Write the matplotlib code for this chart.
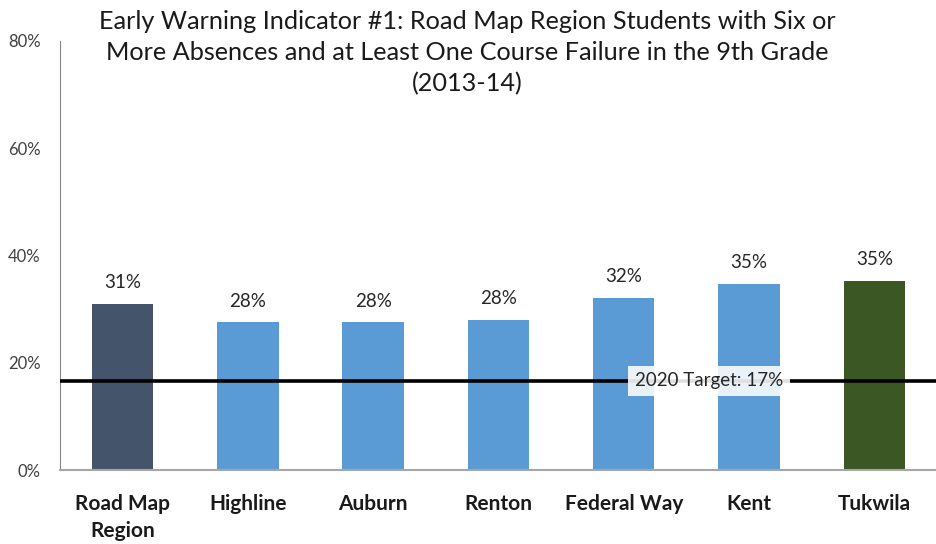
import matplotlib.pyplot as plt

# 9th grade early warning indicator, 2013-14
districts = ["Road Map\nRegion", "Highline", "Auburn", "Renton", "Federal Way", "Kent", "Tukwila"]
pct = [31.0, 27.5, 27.5, 28.0, 32.1, 34.7, 35.3]
target = 16.6
bar_colors = ["#44546A", "#5B9BD5", "#5B9BD5", "#5B9BD5", "#5B9BD5", "#5B9BD5", "#3B5724"]

plt.rcParams['font.family'] = ['Lato', 'DejaVu Sans']

fig = plt.figure(figsize=(9.37, 5.44), dpi=100)
ax = fig.add_axes([0.064, 0.136, 0.936, 0.789])

x = range(len(districts))
bars = ax.bar(x, pct, width=0.49, color=bar_colors, zorder=2)

for xi, v in zip(x, pct):
    ax.annotate(f"{v:.0f}%", (xi, v), xytext=(0, 9), textcoords="offset points",
                ha="center", va="bottom", fontsize=13.5, color="#262626")

# target line with its label
ax.axhline(target, color="black", lw=2.6, zorder=3)
ax.text(4.68, target, f"2020 Target: {target:.0f}%", ha="center", va="center",
        fontsize=13.5, color="#262626", zorder=4,
        bbox=dict(boxstyle="square,pad=0.35", fc="white", ec="none", alpha=0.88))

ax.set_xlim(-0.5, 6.5)
ax.set_ylim(0, 80)
ax.set_yticks([0, 20, 40, 60, 80])
ax.set_yticklabels(["0%", "20%", "40%", "60%", "80%"], fontsize=12, color="#404040")
ax.set_xticks(list(x))
ax.set_xticklabels(districts, fontsize=15, fontweight="bold", color="#1a1a1a",
                   linespacing=1.45)
ax.tick_params(axis="both", length=0)
ax.tick_params(axis="x", pad=17)
ax.tick_params(axis="y", pad=14)

for s in ["top", "right"]:
    ax.spines[s].set_visible(False)
ax.spines["left"].set_color("#868686")
ax.spines["bottom"].set_color("#a6a6a6")
ax.spines["bottom"].set_linewidth(1.5)

fig.text(0.499, 0.982,
         "Early Warning Indicator #1: Road Map Region Students with Six or\n"
         "More Absences and at Least One Course Failure in the 9th Grade\n"
         "(2013-14)",
         ha="center", va="top", fontsize=18.2, color="#1a1a1a", linespacing=1.42)

fig.savefig("out.png", dpi=100)
